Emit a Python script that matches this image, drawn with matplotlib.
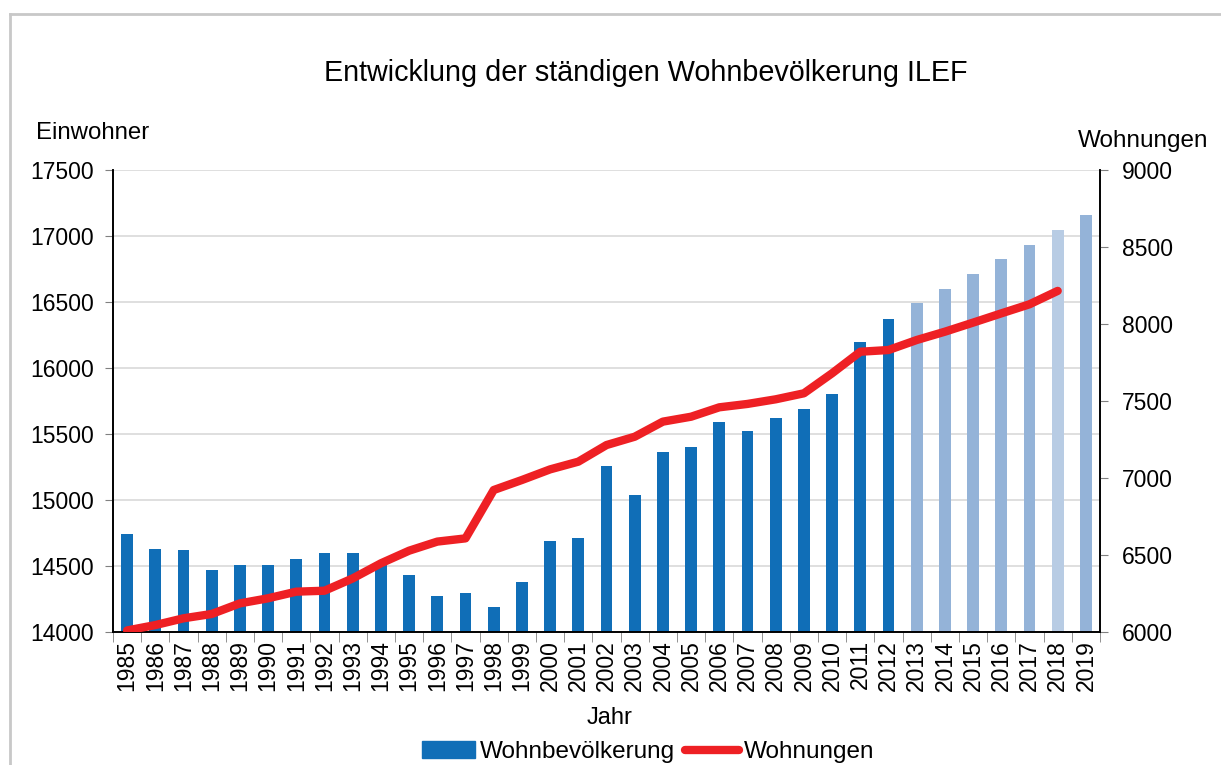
import numpy as np
import matplotlib.pyplot as plt
from matplotlib.patches import Patch
from matplotlib.lines import Line2D

plt.rcParams['font.family'] = ['Liberation Sans', 'DejaVu Sans']

# Data
jahre = [str(y) for y in range(1985, 2020)]
einwohner = [14742, 14626, 14621, 14470, 14508, 14508, 14556, 14596, 14596, 14520,
             14429, 14273, 14293, 14189, 14379, 14689, 14715, 15258, 15038, 15361,
             15402, 15588, 15522, 15619, 15692, 15805, 16194, 16371, 16492, 16598,
             16712, 16826, 16932, 17045, 17159]
wohnungen = [6010, 6045, 6089, 6117, 6186, 6219, 6262, 6268, 6348, 6446,
             6528, 6587, 6608, 6922, 6987, 7056, 7106, 7214, 7268, 7366,
             7398, 7459, 7481, 7511, 7550, 7680, 7820, 7831, 7896, 7950,
             8009, 8069, 8128, 8215, np.nan]

# bar colours: measured years dark, forecast light
dark = '#106eb7'
light = '#94b3d8'
lighter = '#b8cce4'
bar_colors = [dark] * 28 + [light] * 5 + [lighter] + [light]

fig = plt.figure(figsize=(12.21, 7.65), dpi=100)
ax = fig.add_axes([113 / 1221, 1 - 632 / 765, 987 / 1221, 462 / 765])
ax2 = ax.twinx()

x = np.arange(len(jahre))
ax.bar(x, einwohner, width=0.42, color=bar_colors, zorder=2)
ax.set_xlim(-0.5, len(jahre) - 0.5)
ax.set_ylim(14000, 17500)
ax.set_yticks(np.arange(14000, 17501, 500))
ax.yaxis.grid(True, color='#d9d9d9', linewidth=1.2, zorder=0)
ax.set_axisbelow(True)

ax.set_xticks(x)
ax.set_xticklabels(jahre, rotation=90, fontsize=16.5)
ax.tick_params(axis='x', which='major', length=0, pad=6)
ax.set_xticks(np.arange(-0.5, len(jahre)), minor=True)
ax.tick_params(axis='x', which='minor', length=7, color='#808080')
ax.tick_params(axis='y', labelsize=16.5, length=6, color='#808080', pad=8)

ax2.plot(x, wohnungen, color='#ee2024', linewidth=6, solid_capstyle='round',
         solid_joinstyle='round', zorder=3)
ax2.set_ylim(6000, 9000)
ax2.set_yticks(np.arange(6000, 9001, 500))
ax2.tick_params(axis='y', labelsize=16.5, length=6, color='#808080', pad=10)

for a in (ax, ax2):
    a.spines['top'].set_visible(False)
    for s in ('left', 'right', 'bottom'):
        a.spines[s].set_color('black')
        a.spines[s].set_linewidth(1.2)

# texts
fig.text(646 / 1221, 1 - 73 / 765, 'Entwicklung der ständigen Wohnbevölkerung ILEF',
         ha='center', va='center', fontsize=20.7)
fig.text(36 / 1221, 1 - 133 / 765, 'Einwohner', ha='left', va='center', fontsize=17.3)
fig.text(1208 / 1221, 1 - 141 / 765, 'Wohnungen', ha='right', va='center', fontsize=17.5)
fig.text(610 / 1221, 1 - 718 / 765, 'Jahr', ha='center', va='center', fontsize=17)

# outer frame
fig.add_artist(Line2D([9.5 / 1221, 9.5 / 1221], [0, 1 - 14 / 765], color='#c8c8c8', linewidth=2))
fig.add_artist(Line2D([9.5 / 1221, 1], [1 - 14 / 765, 1 - 14 / 765], color='#c8c8c8', linewidth=2))

handles = [Patch(color=dark, label='Wohnbevölkerung'),
           Line2D([0], [0], color='#ee2024', linewidth=6, solid_capstyle='round', label='Wohnungen')]
fig.legend(handles=handles, loc='center', bbox_to_anchor=(648 / 1221, 1 - 752 / 765),
           ncol=2, frameon=False, fontsize=17.5, handlelength=2.2, handleheight=0.7,
           handletextpad=0.2, columnspacing=0.4)

fig.savefig('out.png', dpi=100)
